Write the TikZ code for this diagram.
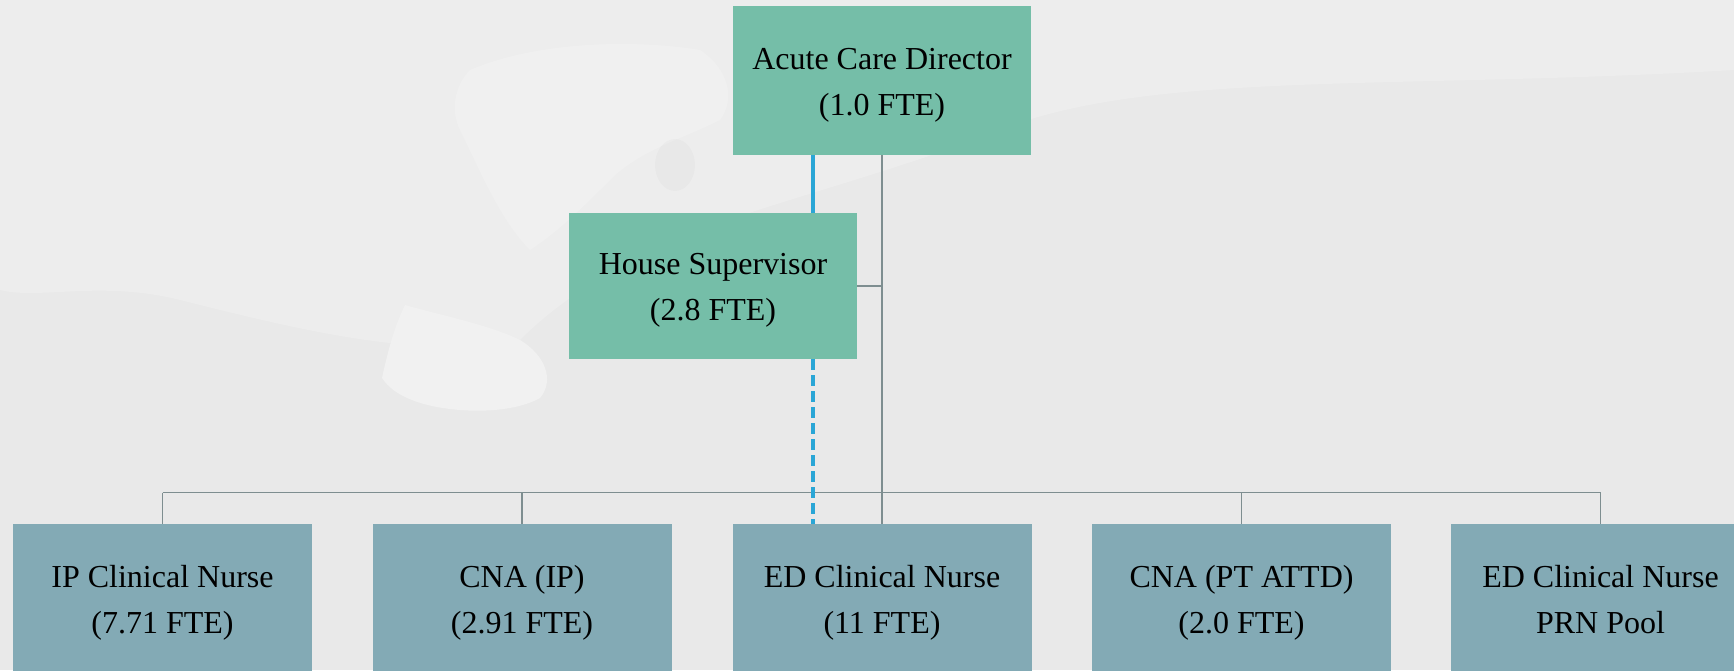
\documentclass[tikz,border=0pt]{standalone}
\usepackage{fontspec}
\setmainfont{Liberation Serif}
\definecolor{bgcol}{HTML}{E9E9E9}
\definecolor{bglight}{HTML}{EDEDED}
\definecolor{bgwhite}{HTML}{F1F1F1}
\definecolor{greenbox}{HTML}{75BEA8}
\definecolor{bluebox}{HTML}{83AAB5}
\definecolor{linegray}{HTML}{7E8E90}
\definecolor{dotblue}{HTML}{2AA6D6}
\newcommand\firststrut{\rule{0pt}{15.3pt}}
\newcommand\laststrut{\rule[-3.6pt]{0pt}{3.6pt}}
\tikzset{
  orgbox/.style={rectangle, inner sep=0pt, align=center, font=\fontsize{16}{23}\selectfont, text=black},
  topbox/.style={orgbox, fill=greenbox, minimum width=149pt, minimum height=74.5pt},
  housebox/.style={orgbox, fill=greenbox, minimum width=144pt, minimum height=73pt},
  staffbox/.style={orgbox, fill=bluebox, minimum width=149.5pt, minimum height=74.5pt},
  grayline/.style={draw=linegray, line width=0.75pt},
  blueline/.style={draw=dotblue, line width=1.6pt},
  bluedash/.style={draw=dotblue, line width=1.6pt, dash pattern=on 5.5pt off 2.5pt}
}
\begin{document}
\begin{tikzpicture}[x=0.5pt,y=-0.5pt]
\useasboundingbox (0,0) rectangle (1734,670);
\clip (0,0) rectangle (1734,670);
% background (subtle watercolour texture)
\fill[bgcol] (0,0) rectangle (1734,670);
\fill[bglight] (0,0) -- (1734,0) -- (1734,70) .. controls (1400,90) and (1150,70) .. (1000,130)
  .. controls (900,170) and (780,200) .. (700,230) .. controls (620,260) and (560,300) .. (520,340)
  .. controls (420,360) and (300,330) .. (180,300) .. controls (100,280) and (40,300) .. (0,290) -- cycle;
\fill[bgwhite, opacity=0.8] (470,70) .. controls (540,40) and (640,40) .. (700,50) .. controls (730,70) and (735,100) .. (720,120)
  .. controls (680,140) and (640,150) .. (610,180) .. controls (580,210) and (560,230) .. (530,250)
  .. controls (500,220) and (480,170) .. (460,130) .. controls (450,110) and (455,85) .. (470,70) -- cycle;
\fill[bgwhite] (405,305) .. controls (440,315) and (490,325) .. (520,340) .. controls (545,355) and (555,380) .. (540,398)
  .. controls (515,412) and (470,414) .. (432,406) .. controls (405,400) and (390,390) .. (382,378)
  .. controls (388,350) and (395,325) .. (405,305) -- cycle;
\fill[black, opacity=0.018] (675,165) ellipse (20 and 26);
% nodes
\node[topbox] (dir) at (882,80.5) {\firststrut Acute Care Director\\(1.0 FTE)\laststrut};
\node[housebox] (house) at (713,286) {\firststrut House Supervisor\\(2.8 FTE)\laststrut};
\node[staffbox] (ip) at (162.5,598.5) {\firststrut IP Clinical Nurse\\(7.71 FTE)\laststrut};
\node[staffbox] (cnaip) at (522,598.5) {\firststrut CNA (IP)\\(2.91 FTE)\laststrut};
\node[staffbox] (ed) at (882,598.5) {\firststrut ED Clinical Nurse\\(11 FTE)\laststrut};
\node[staffbox] (cnapt) at (1241.5,598.5) {\firststrut CNA (PT ATTD)\\(2.0 FTE)\laststrut};
\node[staffbox] (prn) at (1600.5,598.5) {\firststrut ED Clinical Nurse\\PRN Pool\laststrut};
\coordinate (bus) at (882,492.5);
\coordinate (bx) at (813,0);
% connectors
\draw[grayline] (dir.south) -- (bus);
\draw[grayline] (house.east) -- (house.east -| dir.south);
\draw[grayline] (ip.north |- bus) -- (prn.north |- bus);
\foreach \n in {ip,cnaip,ed,cnapt,prn}
  \draw[grayline] (\n.north |- bus) -- (\n.north);
\draw[blueline] (bx |- dir.south) -- (bx |- house.north);
\draw[bluedash] (bx |- house.south) -- (bx |- ed.north);
\end{tikzpicture}
\end{document}
